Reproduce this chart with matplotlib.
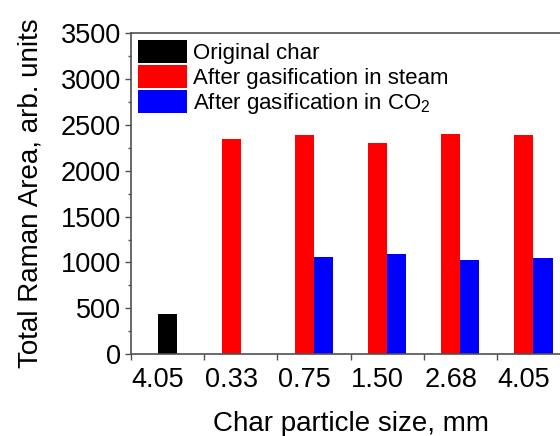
import numpy as np
import matplotlib
matplotlib.use('Agg')
import matplotlib.pyplot as plt
from matplotlib.ticker import MultipleLocator

plt.rcParams['font.family'] = ['Liberation Sans', 'DejaVu Sans']
plt.rcParams['mathtext.fontset'] = 'custom'
plt.rcParams['mathtext.rm'] = 'Liberation Sans'

# Raman area per particle size
sizes = ['4.05', '0.33', '0.75', '1.50', '2.68', '4.05']
original = [440]                                  # untreated char, first group only
steam = [2350, 2385, 2300, 2400, 2385]            # groups 2-6
co2 = [1055, 1090, 1025, 1050]                    # groups 3-6

axis_col = '#505050'
w = 0.26

fig = plt.figure(figsize=(5.6, 4.36), dpi=100)
ax = fig.add_axes([0.234, 0.1874, 0.784, 0.737])

x = np.arange(len(sizes))
ax.bar(x[:1], original, width=0.25, color='black', label='Original char')
ax.bar(x[1:] - w / 2, steam, width=w, color='#ff0000', label='After gasification in steam')
ax.bar(x[2:] + w / 2, co2, width=w, color='#0000ff', label='After gasification in CO$_2$')

ax.set_xlim(-0.5, 5.5)
ax.set_ylim(0, 3500)

# group boundaries get the tick marks, labels sit under the steam bars
ax.set_xticks(x - 0.5)
ax.set_xticklabels([])
ax.set_xticks(x - 0.13, sizes, minor=True)
ax.tick_params(axis='x', which='minor', length=0, pad=9)
ax.tick_params(axis='x', which='major', length=6.5 / 1.389, width=1, color=axis_col)

ax.yaxis.set_major_locator(MultipleLocator(500))
ax.yaxis.set_minor_locator(MultipleLocator(250))
ax.tick_params(axis='y', which='major', length=4.3, width=1, color=axis_col, pad=3)
ax.tick_params(axis='y', which='minor', length=2.2, width=1, color=axis_col)
ax.tick_params(axis='both', which='both', labelsize=19.5, direction='out')

for s in ['left', 'bottom', 'top']:
    ax.spines[s].set_color(axis_col)
    ax.spines[s].set_linewidth(1.2)
ax.spines['right'].set_visible(False)

ax.set_xlabel('Char particle size, mm', fontsize=20, labelpad=13)
ax.set_ylabel('Total Raman Area, arb. units', fontsize=20, labelpad=12)

ax.legend(loc='upper left', bbox_to_anchor=(137.7 / 560, 1 - 40 / 436),
          bbox_transform=fig.transFigure, frameon=False, fontsize=16,
          handlelength=2.2, handleheight=1.2, labelspacing=0.05,
          handletextpad=0.3, borderpad=0, borderaxespad=0)

fig.savefig('out.png', dpi=100)
